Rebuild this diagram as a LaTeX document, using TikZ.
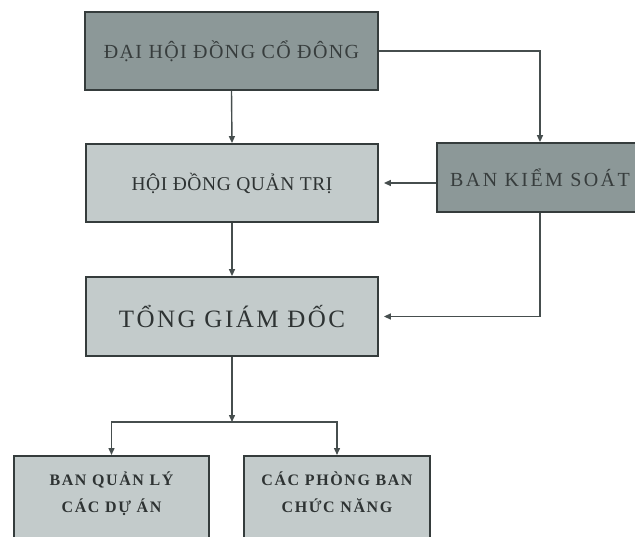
\documentclass[tikz,border=0pt]{standalone}
\usepackage{fontspec}
\setmainfont{Liberation Serif}
\definecolor{HoiDark}{HTML}{8C9898}
\definecolor{HoiLight}{HTML}{C3CBCB}
\definecolor{HoiLine}{HTML}{353C3C}
\definecolor{HoiText}{HTML}{2E3333}
\definecolor{HoiArrow}{HTML}{464E4E}
\usetikzlibrary{arrows.meta,positioning}

\begin{document}
\begin{tikzpicture}[x=1pt,y=-1pt,
    orgbox/.style={draw=HoiLine, line width=1.8pt, fill=HoiLight,
      inner sep=0pt, text=HoiText, align=center},
    darkbox/.style={orgbox, fill=HoiDark, text=HoiText!90!HoiDark},
    flow/.style={draw=HoiArrow, line width=1.4pt,
      -{Triangle[length=7pt,width=6pt]}}
  ]
  \useasboundingbox (0,0) rectangle (635,536);

  % upper level
  \node[darkbox, minimum width=293pt, minimum height=78pt,
    font=\fontsize{20}{24}\selectfont\addfontfeature{LetterSpace=7}]
    (dh) at (231.5,51) {ĐẠI HỘI ĐỒNG CỔ ĐÔNG};
  \node[orgbox, minimum width=292pt, minimum height=78pt,
    font=\fontsize{19.5}{23}\selectfont\addfontfeature{LetterSpace=3}]
    (hd) at (232,183) {HỘI ĐỒNG QUẢN TRỊ};
  \node[darkbox, minimum width=206pt, minimum height=69pt,
    font=\fontsize{20}{24}\selectfont\addfontfeature{LetterSpace=12}]
    (bks) at (540,177.5) {BAN KIỂM SOÁT};
  \node[orgbox, minimum width=292pt, minimum height=79pt,
    font=\fontsize{25}{30}\selectfont\addfontfeature{LetterSpace=10}]
    (tg) at (232,316.5) {TỔNG GIÁM ĐỐC};

  % lower level
  \node[orgbox, anchor=north, minimum width=195pt, inner ysep=16pt,
    font=\bfseries\fontsize{16}{27}\selectfont\addfontfeature{LetterSpace=10}]
    (bql) at (111.5,455) {BAN QUẢN LÝ\\CÁC DỰ ÁN\\~};
  \node[orgbox, anchor=north, minimum width=186pt, inner ysep=16pt,
    font=\bfseries\fontsize{16}{27}\selectfont\addfontfeature{LetterSpace=10}]
    (cpb) at (337,455) {CÁC PHÒNG BAN\\CHỨC NĂNG\\~};

  % connectors
  \draw[flow] (dh.south) -- (hd.north);
  \draw[flow] (dh.east) -| (bks.north);
  \draw[flow, shorten >=5pt] (hd.east -| bks.west) -- (hd.east);
  \draw[flow] (hd.south) -- (tg.north);
  \draw[flow, shorten >=5pt] (bks.south) |- (tg.east);
  \coordinate (split) at (232,422);
  \draw[flow] (tg.south) -- (split);
  \draw[flow] (split) -| (bql.north);
  \draw[flow] (split) -| (cpb.north);
\end{tikzpicture}
\end{document}
